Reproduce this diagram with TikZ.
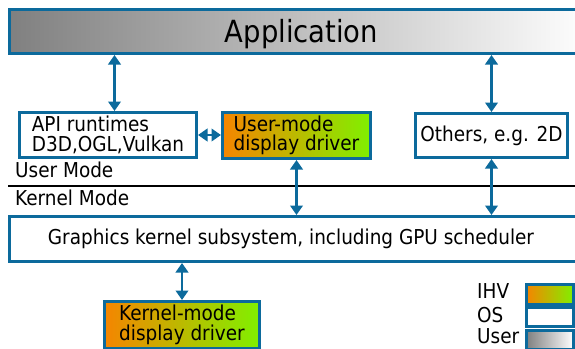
\documentclass[tikz,border=0pt]{standalone}
\usepackage{fontspec}
\setmainfont{DejaVu Sans Condensed}
\usetikzlibrary{arrows.meta}

\definecolor{edgeblue}{RGB}{12,106,156}
\definecolor{ihvorange}{RGB}{245,133,0}
\definecolor{ihvgreen}{RGB}{128,240,0}
\definecolor{usergray}{RGB}{128,128,128}

\newcommand\boxfont{\fontsize{20.5}{19.5}\selectfont}
\newcommand\titlefont{\fontsize{30.5}{32}\selectfont}

\begin{document}
\begin{tikzpicture}[x=1pt,y=-1pt,
  layer/.style={draw=edgeblue, line width=3pt, rectangle, inner sep=0pt,
                anchor=north west, align=left, font=\boxfont},
  ihv/.style={layer, left color=ihvorange, right color=ihvgreen},
  os/.style={layer, fill=white},
  usr/.style={layer, left color=usergray, right color=white},
  conn/.style={draw=edgeblue, line width=2.6pt,
               {Triangle[length=9.5pt,width=12.5pt]}-{Triangle[length=9.5pt,width=12.5pt]}},
  txt/.style={inner sep=0pt, anchor=base west, font=\boxfont},
]
\useasboundingbox (0,0) rectangle (575,348);
\clip (0,0) rectangle (575,348);

% application layer
\node[usr, minimum width=584pt, minimum height=44.5pt, font=\titlefont, text depth=0pt]
  (app) at (8,7.5) {Application};

% user-mode components
\node[os, minimum width=177pt, minimum height=45pt] (api) at (18,111)
  {API runtimes\\D3D,OGL,Vulkan};
\node[ihv, minimum width=148pt, minimum height=46pt] (umd) at (221,111)
  {User-mode\\display driver};
\node[os, minimum width=152pt, minimum height=44pt] (others) at (414,112)
  {Others, e.g. 2D};

% user / kernel boundary
\node[txt] (usermode) at (15,177) {User Mode};
\node[txt] (kernelmode) at (15,205) {Kernel Mode};
\coordinate (sepl) at (8,185.5);
\coordinate (sepr) at (576,185.5);
\draw[line width=2pt] (sepl) -- (sepr);

% kernel-mode components
\node[os, minimum width=569pt, minimum height=45pt] (kernel) at (8,215)
  {\hspace*{-6pt}Graphics kernel subsystem, including GPU scheduler};
\node[ihv, minimum width=155pt, minimum height=47pt] (kmd) at (103,300)
  {Kernel-mode\\display driver};

% connectors
\draw[conn] ([xshift=6.5pt]api.north) -- ([xshift=6.5pt]api.north |- app.south);
\draw[conn] (others.north) -- (others.north |- app.south);
\draw[conn] (api.east) -- (api.east -| umd.west);
\draw[conn] (umd.south) -- (umd.south |- kernel.north);
\draw[conn] (others.south) -- (others.south |- kernel.north);
\draw[conn] (kmd.north) -- (kmd.north |- kernel.south);

% legend
\node[txt] (lihv) at (477,298) {IHV};
\node[txt] (los) at (477,322) {OS};
\node[txt] (luser) at (477,343) {User};
\node[ihv, minimum width=47pt, minimum height=20pt] (kihv) at (525,283) {};
\node[os, minimum width=47pt, minimum height=19pt] (kos) at (525,306) {};
\node[usr, minimum width=47pt, minimum height=19pt] (kuser) at (525,329) {};
\end{tikzpicture}
\end{document}
